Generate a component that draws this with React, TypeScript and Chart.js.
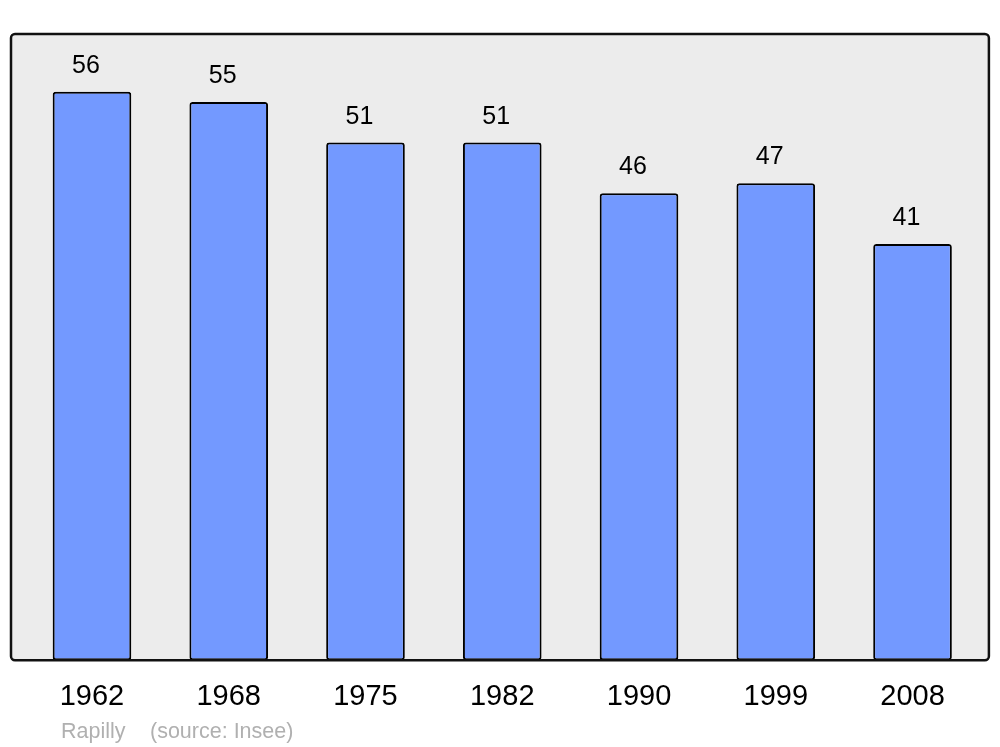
import React, { useEffect, useRef } from "react";
import { Chart, registerables } from "chart.js";

Chart.register(...registerables);

const years = ["1962", "1968", "1975", "1982", "1990", "1999", "2008"];
const population = [56, 55, 51, 51, 46, 47, 41];
const yMax = 61.7;
const commune = "Rapilly";
const source = "(source: Insee)";

const frameFont = "'Liberation Sans', Arial, sans-serif";

function roundRect(ctx: CanvasRenderingContext2D, x: number, y: number, w: number, h: number, r: number) {
  ctx.beginPath();
  ctx.moveTo(x + r, y);
  ctx.lineTo(x + w - r, y);
  ctx.arcTo(x + w, y, x + w, y + r, r);
  ctx.lineTo(x + w, y + h - r);
  ctx.arcTo(x + w, y + h, x + w - r, y + h, r);
  ctx.lineTo(x + r, y + h);
  ctx.arcTo(x, y + h, x, y + h - r, r);
  ctx.lineTo(x, y + r);
  ctx.arcTo(x, y, x + r, y, r);
  ctx.closePath();
}

const framePlugin = {
  id: "frame",
  beforeDatasetsDraw(chart: any) {
    const { ctx, chartArea } = chart;
    ctx.save();
    roundRect(ctx, chartArea.left - 12.6, chartArea.top, chartArea.right - chartArea.left + 20.6, chartArea.bottom - chartArea.top, 4);
    ctx.fillStyle = "#ececec";
    ctx.fill();
    ctx.restore();
  },
  afterDatasetsDraw(chart: any) {
    const { ctx, chartArea } = chart;
    ctx.save();
    roundRect(ctx, chartArea.left - 12.6, chartArea.top, chartArea.right - chartArea.left + 20.6, chartArea.bottom - chartArea.top, 4);
    ctx.lineWidth = 2.5;
    ctx.strokeStyle = "#111111";
    ctx.stroke();

    // value labels
    const meta = chart.getDatasetMeta(0);
    ctx.fillStyle = "#000000";
    ctx.font = `25px ${frameFont}`;
    ctx.textAlign = "center";
    ctx.textBaseline = "alphabetic";
    meta.data.forEach((bar: any, i: number) => {
      ctx.fillText(String(population[i]), bar.x - 6, bar.y - 19);
    });

    // source line
    ctx.fillStyle = "#b0b0b0";
    ctx.font = `21.5px ${frameFont}`;
    ctx.textAlign = "left";
    ctx.fillText(commune, 61, 738);
    ctx.fillText(source, 150, 738);
    ctx.restore();
  },
};

export default function App() {
  const canvasRef = useRef<HTMLCanvasElement>(null);

  useEffect(() => {
    if (!canvasRef.current) return;
    const chart = new Chart(canvasRef.current, {
      type: "bar",
      data: {
        labels: years,
        datasets: [
          {
            data: population,
            backgroundColor: "#7399ff",
            borderColor: "#000000",
            borderWidth: 2,
            borderRadius: 3,
            borderSkipped: false,
            barPercentage: 1,
            categoryPercentage: 0.575,
          },
        ],
      },
      options: {
        animation: false,
        responsive: false,
        maintainAspectRatio: false,
        layout: { padding: { left: 23.6, right: 19.1, top: 34, bottom: 14 } },
        plugins: {
          legend: { display: false },
          tooltip: { enabled: false },
        },
        scales: {
          x: {
            grid: { display: false, drawTicks: false },
            border: { display: false },
            ticks: {
              color: "#000000",
              padding: 19,
              font: { family: frameFont, size: 29 },
            },
          },
          y: {
            display: false,
            min: 0,
            max: yMax,
          },
        },
      },
      plugins: [framePlugin],
    });
    return () => chart.destroy();
  }, []);

  return (
    <div style={{ position: "fixed", left: 0, top: 0, width: 1000, height: 747, background: "#ffffff" }}>
      <canvas ref={canvasRef} width={1000} height={747} style={{ width: 1000, height: 747 }} />
    </div>
  );
}
